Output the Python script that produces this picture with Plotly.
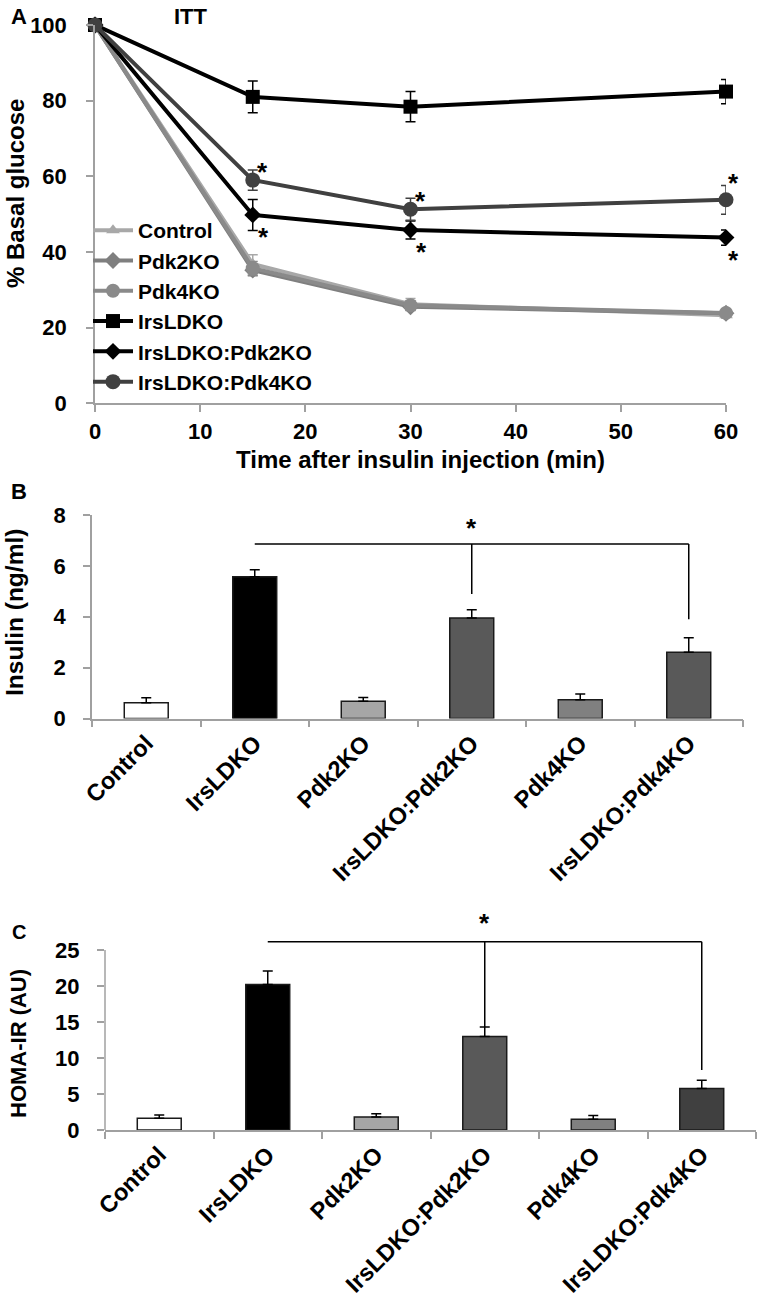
import plotly.graph_objects as go

# ---------------- data ----------------
# Panel A: insulin tolerance test (% basal glucose)
time_min = [0, 15, 30, 60]
itt_names = ["Control", "Pdk2KO", "Pdk4KO", "IrsLDKO", "IrsLDKO:Pdk2KO", "IrsLDKO:Pdk4KO"]
itt_control = [100, 36.8, 26.2, 23.3]
itt_control_err = [0, 2.5, 1.5, 0.8]
itt_pdk2 = [100, 35.2, 25.5, 23.8]
itt_pdk2_err = [0, 1.5, 1.0, 0.8]
itt_pdk4 = [100, 35.7, 25.9, 23.9]
itt_pdk4_err = [0, 1.8, 1.2, 0.8]
itt_irsldko = [100, 81.0, 78.4, 82.4]
itt_irsldko_err = [0, 4.2, 4.0, 3.2]
itt_irs_pdk2 = [100, 49.8, 45.8, 43.8]
itt_irs_pdk2_err = [0, 4.1, 2.4, 2.0]
itt_irs_pdk4 = [100, 59.0, 51.3, 53.8]
itt_irs_pdk4_err = [0, 2.7, 2.9, 3.8]
# significance marks in A (time points)
itt_sig_pdk4 = [15, 30, 60]
itt_sig_pdk2 = [15, 30, 60]

# Panels B and C
groups = ["Control", "IrsLDKO", "Pdk2KO", "IrsLDKO:Pdk2KO", "Pdk4KO", "IrsLDKO:Pdk4KO"]
insulin = [0.62, 5.57, 0.68, 3.95, 0.74, 2.60]
insulin_err = [0.20, 0.28, 0.15, 0.33, 0.22, 0.57]
homa = [1.62, 20.2, 1.82, 13.0, 1.50, 5.77]
homa_err = [0.46, 1.90, 0.42, 1.31, 0.51, 1.13]
sig_ref = "IrsLDKO"
sig_targets = ["IrsLDKO:Pdk2KO", "IrsLDKO:Pdk4KO"]

# ---------------- styling ----------------
W, H = 763, 1307
FONT = "Liberation Sans, Arial, sans-serif"
AX = "#a0a0a0"

def px_x(p):
    return p / W

def px_y(p):
    return 1 - p / H

fig = go.Figure()

itt_series = [
    ("Control", itt_control, itt_control_err, "#a8a8a8", "triangle-up", 12, 4),
    ("Pdk2KO", itt_pdk2, itt_pdk2_err, "#7f7f7f", "diamond", 13, 4),
    ("Pdk4KO", itt_pdk4, itt_pdk4_err, "#8a8a8a", "circle", 14, 4),
    ("IrsLDKO", itt_irsldko, itt_irsldko_err, "#000000", "square", 14, 4),
    ("IrsLDKO:Pdk2KO", itt_irs_pdk2, itt_irs_pdk2_err, "#000000", "diamond", 13, 4),
    ("IrsLDKO:Pdk4KO", itt_irs_pdk4, itt_irs_pdk4_err, "#404040", "circle", 15, 4),
]
for name, vals, errs, col, sym, size, lw in itt_series:
    fig.add_trace(go.Scatter(
        x=time_min, y=vals, name=name, mode="lines+markers",
        line=dict(color=col, width=lw),
        marker=dict(symbol=sym, size=size, color=col),
        error_y=dict(type="data", array=errs, visible=True, color=col, thickness=1.5, width=5),
        cliponaxis=False, xaxis="x", yaxis="y",
    ))

bar_colors_b = ["#ffffff", "#000000", "#a6a6a6", "#595959", "#808080", "#595959"]
bar_colors_c = ["#ffffff", "#000000", "#a6a6a6", "#595959", "#808080", "#404040"]

fig.add_trace(go.Bar(
    x=groups, y=insulin, marker=dict(color=bar_colors_b, line=dict(color="#1a1a1a", width=1.5)),
    error_y=dict(type="data", symmetric=False, array=insulin_err, arrayminus=[0] * len(groups),
                 color="#000000", thickness=1.5, width=5),
    showlegend=False, xaxis="x2", yaxis="y2",
))
fig.add_trace(go.Bar(
    x=groups, y=homa, marker=dict(color=bar_colors_c, line=dict(color="#1a1a1a", width=1.5)),
    error_y=dict(type="data", symmetric=False, array=homa_err, arrayminus=[0] * len(groups),
                 color="#000000", thickness=1.5, width=5),
    showlegend=False, xaxis="x3", yaxis="y3",
))

tickfont = dict(family=FONT, size=22, color="#000000", weight="bold")
catfont = dict(family=FONT, size=23.5, color="#000000", weight="bold")
common = dict(showgrid=False, zeroline=False, ticks="outside", tickcolor=AX, ticklen=7,
              tickwidth=1.5, automargin=False)

fig.update_layout(
    template="none",
    width=W, height=H,
    margin=dict(l=0, r=0, t=0, b=0, autoexpand=False),
    paper_bgcolor="white", plot_bgcolor="white",
    font=dict(family=FONT, color="#000000", weight="bold"),
    bargap=0.595,
    xaxis=dict(domain=[px_x(95), px_x(726)], range=[0, 60], tickvals=[0, 10, 20, 30, 40, 50, 60],
               showline=True, linecolor=AX, linewidth=1.5, anchor="y", tickfont=tickfont,
               ticklabelstandoff=1, **common),
    yaxis=dict(domain=[px_y(403.3), px_y(25)], range=[0, 100], tickvals=[0, 20, 40, 60, 80, 100],
               showline=True, linecolor=AX, linewidth=1.5, anchor="x", tickfont=tickfont,
               ticklabelstandoff=15, **common),
    xaxis2=dict(domain=[px_x(92), px_x(743)], showline=True, linecolor=AX, linewidth=1.5,
                tickson="boundaries", tickangle=-45, anchor="y2", tickfont=catfont, **common),
    yaxis2=dict(domain=[px_y(718.5), px_y(515)], range=[0, 8], tickvals=[0, 2, 4, 6, 8],
                showline=True, linecolor=AX, linewidth=1.5, anchor="x2", tickfont=tickfont,
                ticklabelstandoff=13, **common),
    xaxis3=dict(domain=[px_x(105), px_x(756)], showline=True, linecolor=AX, linewidth=1.5,
                tickson="boundaries", tickangle=-45, anchor="y3", tickfont=catfont, **common),
    yaxis3=dict(domain=[px_y(1130), px_y(914)], range=[0, 30], tickvals=[0, 5, 10, 15, 20, 25],
                showline=False, anchor="x3", tickfont=tickfont, ticklabelstandoff=13, **common),
    legend=dict(x=px_x(88), y=px_y(210), xanchor="left", yanchor="top", bgcolor="rgba(0,0,0,0)",
                font=dict(family=FONT, size=21, color="#000", weight="bold"), tracegroupgap=0,
                itemwidth=40),
)

# C y-axis line only up to 25
fig.add_shape(type="line", xref="x3 domain", yref="y3", x0=0, x1=0, y0=0, y1=25,
              line=dict(color=AX, width=1.5))

# significance brackets B and C
def bracket(xref, yref, level, drops, star_y):
    i0 = groups.index(sig_ref)
    idx = [groups.index(t) for t in sig_targets]
    fig.add_shape(type="line", xref=xref, yref=yref, x0=i0, x1=idx[-1], y0=level, y1=level,
                  line=dict(color="#000", width=1.5))
    for i, d in zip(idx, drops):
        fig.add_shape(type="line", xref=xref, yref=yref, x0=i, x1=i, y0=level, y1=d,
                      line=dict(color="#000", width=1.5))
    fig.add_annotation(x=idx[0], y=star_y, xref=xref, yref=yref, text="*", showarrow=False,
                       font=dict(family=FONT, size=26, color="#000", weight="bold"))

bracket("x2", "y2", 6.86, [4.89, 3.90], 7.5)
bracket("x3", "y3", 26.15, [14.3, 8.35], 28.75)

# significance stars panel A
lookup = dict(zip(time_min, range(len(time_min))))
for t in itt_sig_pdk4:
    fig.add_annotation(x=t, y=itt_irs_pdk4[lookup[t]], xref="x", yref="y", text="*", showarrow=False,
                       xshift=10 if t < 60 else 7, yshift=8 if t < 60 else 17,
                       font=dict(family=FONT, size=26, color="#000", weight="bold"))
for t in itt_sig_pdk2:
    fig.add_annotation(x=t, y=itt_irs_pdk2[lookup[t]], xref="x", yref="y", text="*", showarrow=False,
                       xshift=11 if t < 60 else 7, yshift=-22,
                       font=dict(family=FONT, size=26, color="#000", weight="bold"))

# titles and panel letters
def label(text, x, y, size, angle=0):
    fig.add_annotation(x=px_x(x), y=px_y(y), xref="paper", yref="paper", text=text, showarrow=False,
                       textangle=angle, xanchor="center", yanchor="middle",
                       font=dict(family=FONT, size=size, color="#000", weight="bold"))

label("A", 19, 17, 22)
label("ITT", 191, 17, 22)
label("B", 19, 492, 22)
label("C", 19, 932, 20)
label("Time after insulin injection (min)", 420, 459, 24)
label("% Basal glucose", 16, 194, 24, -90)
label("Insulin (ng/ml)", 14, 613, 24.5, -90)
label("HOMA-IR (AU)", 18, 1044, 22, -90)

fig.write_html("out.html", config={"displayModeBar": False},
               post_script="document.body.style.margin='0';")
